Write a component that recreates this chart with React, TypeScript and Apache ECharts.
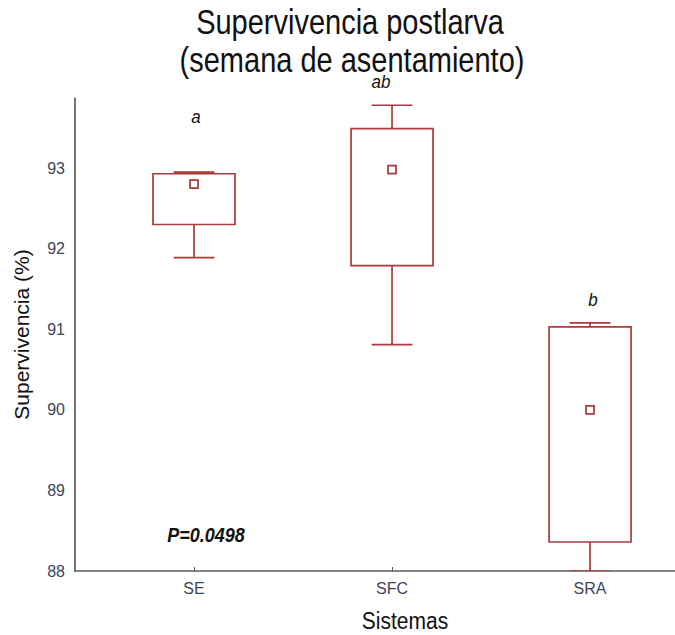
import React, { useEffect, useRef } from "react";
import * as echarts from "echarts";

// Survival of postlarvae per culture system
const CATEGORIES = ["SE", "SFC", "SRA"];
const MIN_VALUES = [91.89, 90.81, 88.0];
const Q1_VALUES = [92.3, 91.79, 88.36];
const Q3_VALUES = [92.93, 93.49, 91.03];
const MAX_VALUES = [92.95, 93.78, 91.08];
const MEAN_VALUES = [92.8, 92.98, 90.0];
const GROUP_LETTERS = ["a", "ab", "b"];
const P_VALUE_TEXT = "P=0.0498";
const Y_TICKS = [88, 89, 90, 91, 92, 93];

const FONT = "'Liberation Sans', Arial, sans-serif";
const BOX_COLOR = "#a83b3b";
const AXIS_COLOR = "#5c5c5c";
const LABEL_COLOR = "#3d4458";
const BOX_HALF = 0.207;
const CAP_HALF = 0.103;

export default function App() {
  const ref = useRef<HTMLDivElement>(null);

  useEffect(() => {
    document.body.style.margin = "0";
    if (!ref.current) return;
    const chart = echarts.init(ref.current, null, { renderer: "svg" });

    const data = CATEGORIES.map((_, i) => [
      i,
      MIN_VALUES[i],
      Q1_VALUES[i],
      Q3_VALUES[i],
      MAX_VALUES[i],
      MEAN_VALUES[i],
    ]);

    // Box (Q1–Q3), whiskers with caps (min/max) and a square for the mean
    const renderItem = (params: any, api: any) => {
      const x = api.value(0);
      const lo = api.value(1);
      const q1 = api.value(2);
      const q3 = api.value(3);
      const hi = api.value(4);
      const mean = api.value(5);
      const [xl, yq3] = api.coord([x - BOX_HALF, q3]);
      const [xr, yq1] = api.coord([x + BOX_HALF, q1]);
      const [xc, ylo] = api.coord([x, lo]);
      const yhi = api.coord([x, hi])[1];
      const ym = api.coord([x, mean])[1];
      const cl = api.coord([x - CAP_HALF, lo])[0];
      const cr = api.coord([x + CAP_HALF, lo])[0];
      const line = { stroke: BOX_COLOR, lineWidth: 1.7 };
      return {
        type: "group",
        children: [
          { type: "line", shape: { x1: xc, y1: yq1, x2: xc, y2: ylo }, style: line },
          { type: "line", shape: { x1: cl, y1: ylo, x2: cr, y2: ylo }, style: line },
          { type: "line", shape: { x1: xc, y1: yq3, x2: xc, y2: yhi }, style: line },
          { type: "line", shape: { x1: cl, y1: yhi, x2: cr, y2: yhi }, style: line },
          {
            type: "rect",
            shape: { x: xl, y: yq3, width: xr - xl, height: yq1 - yq3 },
            style: { ...line, fill: "transparent" },
          },
          {
            type: "rect",
            shape: { x: xc - 4, y: ym - 4, width: 8, height: 8 },
            style: { ...line, fill: "#ffffff" },
          },
        ],
      };
    };

    const letterPos = [
      [196, 117],
      [381, 82],
      [593, 300],
    ];

    const text = (
      str: string,
      x: number,
      y: number,
      font: string,
      scaleY = 1.15
    ) => ({
      type: "text",
      x,
      y,
      scaleY,
      style: {
        text: str,
        font,
        fill: "#111",
        textAlign: "center",
        textVerticalAlign: "middle",
      },
    });

    chart.setOption({
      animation: false,
      grid: { left: 75, right: 0, top: 98, bottom: 64 },
      xAxis: {
        type: "value",
        min: -0.601,
        max: 2.429,
        axisLine: { show: true, onZero: false, lineStyle: { color: AXIS_COLOR, width: 1.7 } },
        axisTick: {
          show: true,
          inside: true,
          length: 4,
          customValues: [0, 1, 2],
          lineStyle: { color: AXIS_COLOR },
        },
        axisLabel: {
          customValues: [0, 1, 2],
          formatter: (v: number) => CATEGORIES[Math.round(v)] ?? "",
          fontFamily: FONT,
          fontSize: 16,
          color: LABEL_COLOR,
          margin: 9,
        },
        splitLine: { show: false },
      },
      yAxis: {
        type: "value",
        min: 88,
        max: 93.87,
        interval: 1,
        name: "Supervivencia (%)",
        nameLocation: "middle",
        nameGap: 43,
        nameTextStyle: { fontFamily: FONT, fontSize: 21, color: "#111" },
        axisLine: { show: true, onZero: false, lineStyle: { color: AXIS_COLOR, width: 1.7 } },
        axisTick: { show: false },
        axisLabel: {
          fontFamily: FONT,
          fontSize: 16,
          color: LABEL_COLOR,
          margin: 10,
          formatter: (v: number) => (Y_TICKS.includes(v) ? String(v) : ""),
        },
        splitLine: { show: false },
      },
      series: [
        {
          type: "custom",
          renderItem,
          clip: true,
          encode: { x: 0, y: [1, 2, 3, 4, 5] },
          data,
        },
      ],
      graphic: [
        text("Supervivencia postlarva", 350, 22, `29px ${FONT}`, 1.2),
        text("(semana de asentamiento)", 352, 60, `29px ${FONT}`, 1.2),
        text("Sistemas", 405, 621, `21px ${FONT}`, 1.1),
        text(P_VALUE_TEXT, 206, 535, `italic bold 18px ${FONT}`, 1.1),
        ...GROUP_LETTERS.map((t, i) =>
          text(t, letterPos[i][0], letterPos[i][1], `italic 17px ${FONT}`, 1.1)
        ),
      ],
    });

    return () => chart.dispose();
  }, []);

  return <div ref={ref} style={{ width: 675, height: 635 }} />;
}
